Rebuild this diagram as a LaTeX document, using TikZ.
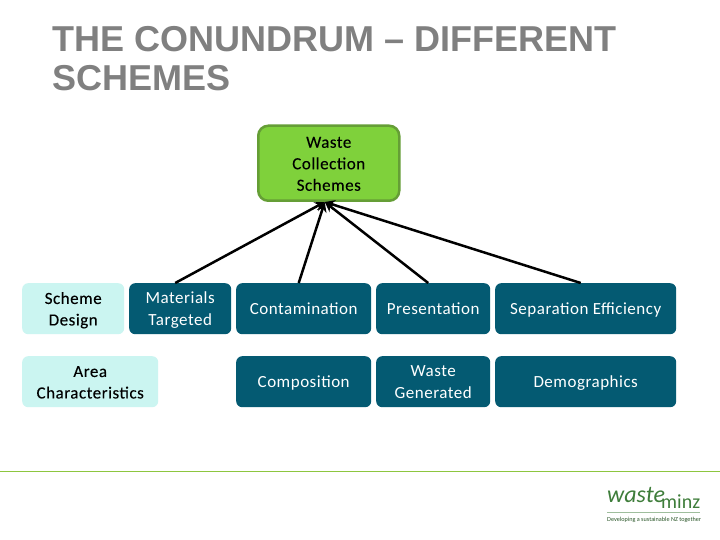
\documentclass[tikz,border=0pt]{standalone}
\usepackage{fontspec}
\setmainfont{Carlito}
\newfontfamily\titlefont{Liberation Sans}
\newfontfamily\boxfont[LetterSpace=3]{Carlito}
\newfontfamily\boxfontb[LetterSpace=3,FakeBold=0.15]{Carlito}
\usetikzlibrary{arrows.meta}
\definecolor{dark}{HTML}{045A72}
\definecolor{light}{HTML}{CBF5F1}
\definecolor{grn}{HTML}{7FD13B}
\definecolor{grnb}{HTML}{659E36}
\definecolor{logog}{HTML}{3E7D3A}
\definecolor{rulecol}{HTML}{8DC63F}
\newcommand{\lines}[1]{\raisebox{-1.7pt}[\height][\depth]{\begin{tabular}{@{}c@{}}#1\end{tabular}}}
\tikzset{
 box/.style={rounded corners=6pt,inner sep=0pt,anchor=north west},
 darkfill/.style={fill=dark,text=white,font=\boxfont\fontsize{17}{21.5}\selectfont},
 lightfill/.style={fill=light,text=black,font=\boxfontb\fontsize{17}{21.5}\selectfont},
 titletext/.style={anchor=west,text=black!50,font=\titlefont\bfseries\fontsize{36}{36}\selectfont,inner sep=0pt},
 link/.style={line width=2.5pt,black,-{Stealth[length=10pt,width=10pt]}},
}
\begin{document}
\begin{tikzpicture}[x=1pt,y=-1pt]
\useasboundingbox (0,0) rectangle (720,540);
\fill[white] (0,0) rectangle (720,540);
\node[titletext] (t1) at (52,39) {THE CONUNDRUM – DIFFERENT};
\node[titletext] (t2) at (52,78) {SCHEMES};
\node[box,font=\boxfontb\fontsize{17}{21.5}\selectfont,fill=grn,draw=grnb,line width=2.5pt,rounded corners=10pt,minimum width=141pt,minimum height=75pt] (top) at (257,124.5) {\lines{Waste\\Collection\\Schemes}};
\node[box,lightfill,minimum width=102pt,minimum height=51pt] (sd) at (22,283) {\lines{Scheme\\Design}};
\node[box,darkfill,minimum width=102pt,minimum height=51pt] (mt) at (129,283) {\lines{Materials\\Targeted}};
\node[box,darkfill,minimum width=135pt,minimum height=51pt] (co) at (236,283) {\lines{Contamination}};
\node[box,darkfill,minimum width=114pt,minimum height=51pt] (pr) at (376,283) {\lines{Presentation}};
\node[box,darkfill,minimum width=181pt,minimum height=51pt] (se) at (495,283) {\lines{Separation Efficiency}};
\node[box,lightfill,minimum width=136pt,minimum height=51pt] (ac) at (22,356) {\lines{Area\\Characteristics}};
\node[box,darkfill,minimum width=135pt,minimum height=51pt] (cp) at (236,356) {\lines{Composition}};
\node[box,darkfill,minimum width=114pt,minimum height=51pt] (wg) at (376,356) {\lines{Waste\\Generated}};
\node[box,darkfill,minimum width=181pt,minimum height=51pt] (de) at (495,356) {\lines{Demographics}};
\coordinate (tip) at ([xshift=-4pt,yshift=0pt]top.south);
\draw[link] ([xshift=-5pt]mt.north) -- (tip);
\draw[link] ([xshift=-5pt]co.north) -- (tip);
\draw[link] ([xshift=-5pt]pr.north) -- (tip);
\draw[link] ([xshift=-5pt]se.north) -- (tip);
\coordinate (ruleL) at (0,471.5);
\coordinate (ruleR) at (720,471.5);
\draw[color=rulecol,line width=1.2pt] (ruleL) -- (ruleR);
\node[anchor=base west,inner sep=0pt,text=logog,font=\fontsize{24}{24}\selectfont\itshape] (lw) at (607,502) {waste};
\node[anchor=base west,inner sep=0pt,text=logog,font=\fontsize{20}{20}\selectfont] (lm) at (661,508.5) {minz};
\coordinate (lr1) at (607,512.5);
\coordinate (lr2) at (700,512.5);
\draw[logog!50,line width=.6pt] (lr1) -- (lr2);
\node[anchor=base west,inner sep=0pt,text=logog!70!black,font=\fontsize{6.2}{6.2}\selectfont] (ls) at (607,521) {Developing a sustainable NZ together};
\end{tikzpicture}
\end{document}
